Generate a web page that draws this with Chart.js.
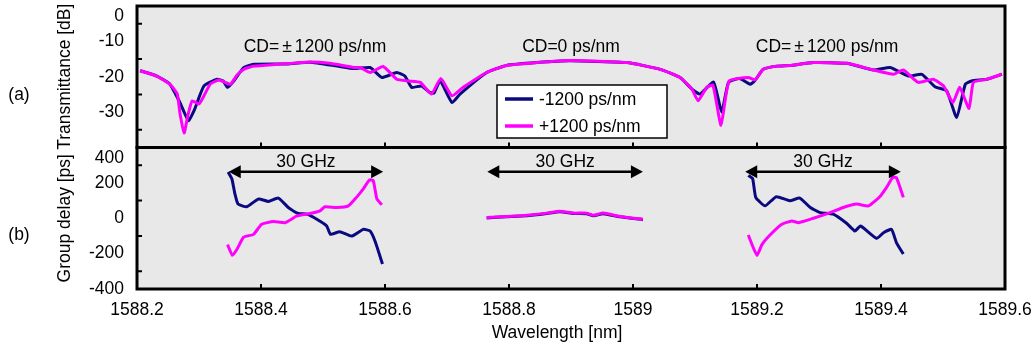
<!DOCTYPE html>
<html>
<head>
<meta charset="utf-8">
<script src="https://cdn.jsdelivr.net/npm/chart.js"></script>
<style>
  html, body { margin: 0; padding: 0; background: #fff; }
  #wrap { width: 1032px; height: 349px; position: relative; }
</style>
</head>
<body>
<div id="wrap"><canvas id="chart"></canvas></div>
<script>
// ---- data ----
// x axis
const xTicks = [1588.2, 1588.4, 1588.6, 1588.8, 1589.0, 1589.2, 1589.4, 1589.6];
const transTicks = [0, -10, -20, -30, -40];
const delayTicks = [400, 200, 0, -200, -400];

// (a) transmittance [dB], -1200 ps/nm
const aWlMinus = [1588.205, 1588.232, 1588.253, 1588.269, 1588.283, 1588.292, 1588.308, 1588.329, 1588.339, 1588.346,
  1588.356, 1588.372, 1588.388, 1588.442, 1588.479, 1588.523, 1588.550, 1588.576, 1588.595, 1588.619,
  1588.632, 1588.643, 1588.659, 1588.673, 1588.679, 1588.689, 1588.708, 1588.721, 1588.764, 1588.796,
  1588.845, 1588.898, 1588.990, 1589.044, 1589.076, 1589.095, 1589.108, 1589.130, 1589.143, 1589.154,
  1589.172, 1589.189, 1589.197, 1589.210, 1589.232, 1589.253, 1589.291, 1589.345, 1589.388, 1589.415,
  1589.444, 1589.466, 1589.487, 1589.506, 1589.522, 1589.536, 1589.546, 1589.571, 1589.595];
const aMinus = [-18.3, -19.8, -22.1, -27.2, -32.4, -29.6, -22.6, -20.7, -21.2, -23.0,
  -21.2, -17.4, -16.5, -16.4, -15.9, -17.0, -17.7, -17.4, -20.2, -18.8,
  -19.8, -23.0, -22.6, -24.5, -24.6, -21.2, -27.3, -24.9, -18.8, -16.8,
  -16.0, -15.5, -16.0, -17.9, -20.2, -23.5, -24.9, -21.5, -30.0, -21.6,
  -20.5, -22.1, -21.0, -17.9, -17.0, -16.8, -16.0, -16.2, -18.1, -17.4,
  -19.8, -19.3, -22.8, -24.0, -31.5, -22.1, -21.2, -20.7, -19.3];

// (a) transmittance [dB], +1200 ps/nm
const aWlPlus = [1588.205, 1588.232, 1588.253, 1588.265, 1588.269, 1588.276, 1588.282, 1588.289, 1588.300, 1588.308,
  1588.318, 1588.332, 1588.342, 1588.351, 1588.361, 1588.372, 1588.388, 1588.426, 1588.480, 1588.511,
  1588.550, 1588.560, 1588.576, 1588.597, 1588.619, 1588.638, 1588.657, 1588.675, 1588.690, 1588.708,
  1588.726, 1588.764, 1588.796, 1588.845, 1588.898, 1588.990, 1589.044, 1589.076, 1589.095, 1589.105,
  1589.119, 1589.129, 1589.142, 1589.155, 1589.186, 1589.197, 1589.210, 1589.232, 1589.253, 1589.291,
  1589.345, 1589.388, 1589.420, 1589.436, 1589.460, 1589.484, 1589.501, 1589.516, 1589.527, 1589.542,
  1589.549, 1589.571, 1589.595];
const aPlus = [-18.3, -19.8, -22.1, -24.9, -30.0, -35.9, -31.0, -26.8, -27.7, -25.4,
  -22.1, -20.9, -21.6, -22.1, -19.6, -17.9, -17.0, -16.5, -15.8, -16.2,
  -17.4, -17.4, -18.8, -17.1, -20.7, -21.2, -21.6, -24.9, -20.5, -25.4,
  -23.0, -18.8, -16.8, -16.0, -15.4, -16.0, -17.9, -20.2, -23.5, -26.8,
  -23.0, -22.4, -33.7, -21.2, -20.2, -20.9, -17.9, -17.0, -16.8, -16.0,
  -16.2, -18.1, -19.3, -18.1, -21.6, -20.7, -22.6, -27.3, -23.0, -29.0,
  -21.6, -20.7, -19.3];

// (b) group delay [ps], left band
const bLeftWlMinus = [1588.347, 1588.353, 1588.358, 1588.363, 1588.377, 1588.396, 1588.412, 1588.428, 1588.444, 1588.460,
  1588.474, 1588.490, 1588.506, 1588.512, 1588.527, 1588.546, 1588.565, 1588.576, 1588.584, 1588.596];
const bLeftMinus = [261, 223, 137, 80, 65, 109, 95, 114, 61, 27, 23, -6, -44, -91, -76, -101, -63, -72, -130, -259];
const bLeftWlPlus = [1588.346, 1588.354, 1588.361, 1588.372, 1588.388, 1588.401, 1588.420, 1588.439, 1588.458, 1588.479,
  1588.495, 1588.503, 1588.522, 1588.541, 1588.554, 1588.565, 1588.575, 1588.581, 1588.587, 1588.595];
const bLeftPlus = [-149, -210, -177, -107, -91, -34, -19, -25, 13, 27, 42, 65, 61, 70, 118, 166, 217, 213, 109, 76];

// (b) group delay [ps], centre band
const bMidWl = [1588.764, 1588.796, 1588.829, 1588.861, 1588.882, 1588.904, 1588.925, 1588.936, 1588.952, 1588.979, 1589.016];
const bMidMinus = [2, 8, 14, 27, 37, 27, 26, 14, 26, 8, -8];
const bMidPlus = [4, 10, 17, 29, 40, 29, 29, 17, 29, 10, -6];

// (b) group delay [ps], right band
const bRightWlMinus = [1589.186, 1589.193, 1589.198, 1589.213, 1589.231, 1589.253, 1589.269, 1589.286, 1589.302, 1589.323,
  1589.345, 1589.358, 1589.367, 1589.393, 1589.404, 1589.417, 1589.425, 1589.436];
const bRightMinus = [242, 223, 118, 70, 122, 99, 114, 61, 32, 23, -30, -72, -44, -114, -82, -63, -139, -202];
const bRightWlPlus = [1589.186, 1589.192, 1589.200, 1589.208, 1589.221, 1589.240, 1589.256, 1589.267, 1589.291, 1589.318,
  1589.339, 1589.361, 1589.380, 1589.398, 1589.409, 1589.419, 1589.425, 1589.436];
const bRightPlus = [-95, -149, -210, -149, -95, -34, -15, -25, 0, 32, 61, 80, 70, 122, 175, 232, 229, 118];

// annotations
const cdText = ['CD=±1200 ps/nm', 'CD=0 ps/nm', 'CD=±1200 ps/nm'];
const cdWl = [1588.487, 1588.900, 1589.313];
const cdLevel = -11.6;
const bandStart = [1588.348, 1588.765, 1589.181];
const bandEnd = [1588.597, 1589.016, 1589.432];
const bandLevel = 263;
const bandText = '30 GHz';
const seriesNames = ['-1200 ps/nm', '+1200 ps/nm'];

const NAVY = '#0a0a80';
const MAGENTA = '#ff00ff';
const FONT = "'Liberation Sans', Arial, sans-serif";
const FS = 17.5;

function zip(xs, ys) {
    return xs.map((x, i) => ({ x: x, y: ys[i] }));
}

function line(label, xs, ys, color, axis, order) {
    return {
        label: label,
        data: zip(xs, ys),
        yAxisID: axis,
        borderColor: color,
        backgroundColor: color,
        borderWidth: 3,
        pointRadius: 0,
        tension: 0.15,
        fill: false,
        order: order
    };
}

// frame, ticks, annotations and legend
const framePlugin = {
    id: 'frame',
    beforeDraw(chart) {
        const { ctx, chartArea: a } = chart;
        ctx.save();
        ctx.fillStyle = '#e8e8e8';
        ctx.fillRect(a.left, a.top, a.right - a.left, a.bottom - a.top);
        ctx.restore();
    },
    afterDatasetsDraw(chart) {
        const { ctx, chartArea: a, scales } = chart;
        const x = scales.x, yA = scales.yA, yB = scales.yB;
        ctx.save();

        // panel borders
        ctx.strokeStyle = '#000';
        ctx.lineWidth = 3;
        ctx.strokeRect(a.left, yA.top, a.right - a.left, yA.bottom - yA.top);
        ctx.strokeRect(a.left, yB.top, a.right - a.left, yB.bottom - yB.top);

        // small inward tick marks
        ctx.lineWidth = 2;
        ctx.beginPath();
        [-5, -15, -25, -35].forEach(v => {
            const py = yA.getPixelForValue(v);
            ctx.moveTo(a.left, py); ctx.lineTo(a.left + 5, py);
        });
        [300, 100, -100, -300].forEach(v => {
            const py = yB.getPixelForValue(v);
            ctx.moveTo(a.left, py); ctx.lineTo(a.left + 5, py);
        });
        xTicks.slice(1, -1).forEach(v => {
            const px = x.getPixelForValue(v);
            ctx.moveTo(px, yA.bottom); ctx.lineTo(px, yA.bottom - 5);
            ctx.moveTo(px, yB.bottom); ctx.lineTo(px, yB.bottom - 5);
        });
        ctx.stroke();

        ctx.fillStyle = '#000';
        ctx.font = FS + 'px ' + FONT;
        ctx.textBaseline = 'middle';

        // CD labels
        cdText.forEach((t, i) => {
            const cx = x.getPixelForValue(cdWl[i]);
            const cy = yA.getPixelForValue(cdLevel);
            const parts = t.split('±');
            if (parts.length === 1) {
                ctx.textAlign = 'center';
                ctx.fillText(t, cx, cy);
                return;
            }
            const slot = ctx.measureText('±').width + 6;
            const w0 = ctx.measureText(parts[0]).width;
            const w1 = ctx.measureText(parts[1]).width;
            let sx = cx - (w0 + slot + w1) / 2;
            ctx.textAlign = 'left';
            ctx.fillText(parts[0], sx, cy);
            ctx.textAlign = 'center';
            ctx.fillText('±', sx + w0 + slot / 2, cy);
            ctx.textAlign = 'left';
            ctx.fillText(parts[1], sx + w0 + slot, cy);
        });

        // 30 GHz arrows
        ctx.lineWidth = 2.5;
        bandStart.forEach((s, i) => {
            const x1 = x.getPixelForValue(s);
            const x2 = x.getPixelForValue(bandEnd[i]);
            const y = yB.getPixelForValue(bandLevel);
            const head = 12, half = 6.5;
            ctx.beginPath();
            ctx.moveTo(x1 + head - 2, y); ctx.lineTo(x2 - head + 2, y);
            ctx.stroke();
            ctx.beginPath();
            ctx.moveTo(x1, y); ctx.lineTo(x1 + head, y - half); ctx.lineTo(x1 + head, y + half); ctx.closePath();
            ctx.moveTo(x2, y); ctx.lineTo(x2 - head, y - half); ctx.lineTo(x2 - head, y + half); ctx.closePath();
            ctx.fill();
            ctx.textAlign = 'center';
            ctx.fillText(bandText, (x1 + x2) / 2, y - 9.5);
        });

        // panel letters and x title
        ctx.textAlign = 'center';
        ctx.fillText('(a)', 19, 95);
        ctx.fillText('(b)', 19, 235);
        ctx.fillText('Wavelength [nm]', 557, 333);

        // legend
        const lx = 497, ly = 85, lw = 170, lh = 53;
        ctx.fillStyle = '#fff';
        ctx.fillRect(lx, ly, lw, lh);
        ctx.strokeStyle = '#000';
        ctx.lineWidth = 1.5;
        ctx.strokeRect(lx, ly, lw, lh);
        [NAVY, MAGENTA].forEach((c, i) => {
            const ry = ly + 14 + i * 27;
            ctx.strokeStyle = c;
            ctx.lineWidth = 3.5;
            ctx.beginPath();
            ctx.moveTo(lx + 8, ry); ctx.lineTo(lx + 36, ry);
            ctx.stroke();
            ctx.fillStyle = '#000';
            ctx.textAlign = 'left';
            ctx.fillText(seriesNames[i], lx + 42, ry + 1);
        });

        ctx.restore();
    }
};

function fixedWidth(w) {
    return function(scale) {
        scale.width = w;
        scale.paddingTop = 0;
        scale.paddingBottom = 0;
    };
}

// the top label of each panel sits a little below its tick in the original
function topLabel(top) {
    return v => (v === top ? ['', String(v)] : String(v));
}

document.addEventListener('DOMContentLoaded', function() {
    Chart.defaults.font.family = FONT;
    Chart.defaults.font.size = FS;
    Chart.defaults.color = '#000';

    const datasets = [
        line(seriesNames[0], aWlMinus, aMinus, NAVY, 'yA', 2),
        line(seriesNames[1], aWlPlus, aPlus, MAGENTA, 'yA', 1),
        line(seriesNames[0], bLeftWlMinus, bLeftMinus, NAVY, 'yB', 2),
        line(seriesNames[1], bLeftWlPlus, bLeftPlus, MAGENTA, 'yB', 1),
        line(seriesNames[0], bMidWl, bMidMinus, NAVY, 'yB', 2),
        line(seriesNames[1], bMidWl, bMidPlus, MAGENTA, 'yB', 1),
        line(seriesNames[0], bRightWlMinus, bRightMinus, NAVY, 'yB', 2),
        line(seriesNames[1], bRightWlPlus, bRightPlus, MAGENTA, 'yB', 1)
    ];

    const yCommon = {
        type: 'linear',
        position: 'left',
        stack: 'panels',
        stackWeight: 1,
        offset: false,
        grid: { display: false, drawTicks: false },
        border: { display: false },
        afterFit: fixedWidth(137)
    };

    const transLabel = topLabel(0);

    new Chart(document.getElementById('chart'), {
        type: 'line',
        data: { datasets: datasets },
        options: {
            responsive: true,
            maintainAspectRatio: false,
            animation: false,
            layout: { padding: { left: 0, right: 27, top: 6, bottom: 0 } },
            plugins: {
                legend: { display: false },
                tooltip: { enabled: false }
            },
            scales: {
                x: {
                    type: 'linear',
                    position: 'bottom',
                    min: 1588.2,
                    max: 1589.6,
                    grid: { display: false, drawTicks: false },
                    border: { display: false },
                    afterBuildTicks: s => { s.ticks = xTicks.map(v => ({ value: v })); },
                    ticks: {
                        padding: 11,
                        maxRotation: 0,
                        autoSkip: false,
                        callback: v => String(parseFloat(Number(v).toFixed(1)))
                    },
                    afterFit: s => { s.height = 60; s.paddingLeft = 0; s.paddingRight = 0; }
                },
                yB: Object.assign({}, yCommon, {
                    min: -400,
                    max: 400,
                    afterBuildTicks: s => { s.ticks = delayTicks.map(v => ({ value: v })); },
                    ticks: { padding: 13, autoSkip: false, callback: topLabel(400) },
                    title: { display: true, text: 'Group delay [ps]', padding: { top: 55, bottom: 0 } }
                }),
                yA: Object.assign({}, yCommon, {
                    min: -40,
                    max: 0,
                    afterBuildTicks: s => { s.ticks = transTicks.map(v => ({ value: v })); },
                    ticks: { padding: 13, autoSkip: false, callback: v => (v === -40 ? '' : transLabel(v)) },
                    title: { display: true, text: 'Transmittance [dB]', padding: { top: 55, bottom: 0 } }
                })
            }
        },
        plugins: [framePlugin]
    });
});
</script>
</body>
</html>
